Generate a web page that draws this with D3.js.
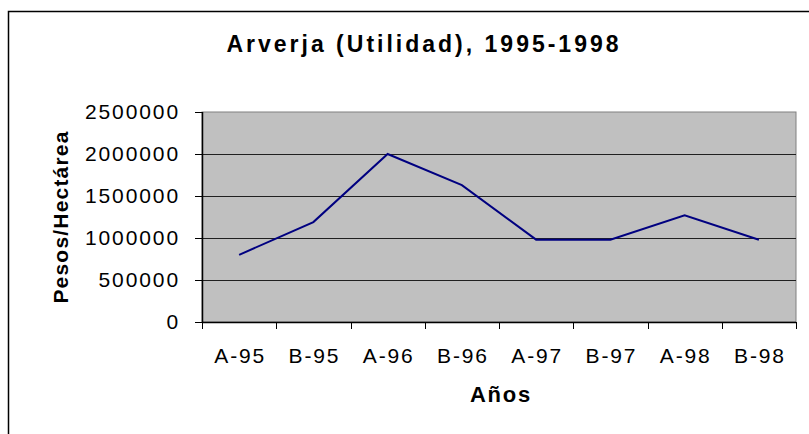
<!DOCTYPE html>
<html>
<head>
<meta charset="utf-8">
<script src="https://cdn.jsdelivr.net/npm/d3@7"></script>
<style>
  body { margin: 0; background: #fff; }
  text { font-family: Arial, "Liberation Sans", sans-serif; fill: #000; }
</style>
</head>
<body>
<div id="chart"></div>
<script>
// data
let periods = ["A-95", "B-95", "A-96", "B-96", "A-97", "B-97", "A-98", "B-98"];
let utilidad = [800000, 1190000, 2000000, 1630000, 980000, 980000, 1270000, 980000];
let yTicks = [0, 500000, 1000000, 1500000, 2000000, 2500000];

let W = 809, H = 434;
let margin = { top: 112, right: 13, bottom: 112, left: 202 },
  width = W - margin.left - margin.right,
  height = H - margin.top - margin.bottom;

let root = d3.select("#chart").append("svg")
  .attr("width", W)
  .attr("height", H);

// chart frame (runs off the right / bottom edge)
root.append("path")
  .attr("d", "M8.5," + H + "V11.5H" + W)
  .attr("fill", "none")
  .attr("stroke", "#000")
  .attr("stroke-width", 1.5);

// title
root.append("text")
  .attr("x", 424)
  .attr("y", 52)
  .attr("text-anchor", "middle")
  .style("font-size", "23px")
  .style("font-weight", "bold")
  .style("letter-spacing", "3px")
  .text("Arverja (Utilidad), 1995-1998");

let svg = root.append("g")
  .attr("transform", "translate(" + margin.left + "," + margin.top + ")");

let x = d3.scaleBand().domain(periods).range([0, width]);
let y = d3.scaleLinear().domain([0, 2500000]).range([height, 0]);

// plot area
svg.append("rect")
  .attr("width", width)
  .attr("height", height)
  .attr("fill", "#c0c0c0")
  .attr("stroke", "#808080")
  .attr("stroke-width", 1);

// horizontal gridlines
svg.append("g")
  .selectAll("line")
  .data(yTicks.filter(d => d > 0 && d < 2500000))
  .enter()
  .append("line")
  .attr("x1", 0)
  .attr("x2", width)
  .attr("y1", d => Math.round(y(d)) + 0.5)
  .attr("y2", d => Math.round(y(d)) + 0.5)
  .attr("stroke", "#202020")
  .attr("stroke-width", 1);

// Y axis
let yAxis = svg.append("g")
  .call(d3.axisLeft(y).tickValues(yTicks).tickSize(7).tickPadding(15).tickFormat(d3.format("d")));
yAxis.select(".domain").attr("stroke", "#000").attr("stroke-width", 1.5).attr("d", "M0.5,0V" + height);
yAxis.selectAll("text")
  .style("font-size", "21px")
  .style("letter-spacing", "1.9px")
  .attr("fill", "#000");

// X axis (ticks between categories)
let xAxis = svg.append("g")
  .attr("transform", "translate(0," + height + ")")
  .call(d3.axisBottom(x).tickSize(0).tickPadding(26));
xAxis.select(".domain").attr("stroke", "#000").attr("stroke-width", 1.5).attr("d", "M0," + 0.5 + "H" + width);
xAxis.selectAll("text")
  .style("font-size", "21px")
  .style("letter-spacing", "1.8px")
  .attr("dx", "1px")
  .attr("fill", "#000");

svg.append("g")
  .selectAll("line")
  .data(periods.concat(["end"]))
  .enter()
  .append("line")
  .attr("x1", (d, i) => Math.round(i * x.bandwidth()) + 0.5)
  .attr("x2", (d, i) => Math.round(i * x.bandwidth()) + 0.5)
  .attr("y1", height)
  .attr("y2", height + 7)
  .attr("stroke", "#000");

// axis titles
svg.append("text")
  .attr("x", width / 2 + 2)
  .attr("y", height + 80)
  .attr("text-anchor", "middle")
  .style("font-size", "22px")
  .style("font-weight", "bold")
  .style("letter-spacing", "1.8px")
  .text("Años");

svg.append("text")
  .attr("transform", "translate(" + (68 - margin.left) + "," + (217 - margin.top) + ") rotate(-90)")
  .attr("text-anchor", "middle")
  .style("font-size", "21px")
  .style("font-weight", "bold")
  .style("letter-spacing", "1.2px")
  .text("Pesos/Hectárea");

// the series
let line = d3.line()
  .x((d, i) => x(periods[i]) + x.bandwidth() / 2)
  .y(d => y(d));

svg.append("path")
  .datum(utilidad)
  .attr("d", line)
  .attr("fill", "none")
  .attr("stroke", "#000080")
  .attr("stroke-width", 2);
</script>
</body>
</html>
